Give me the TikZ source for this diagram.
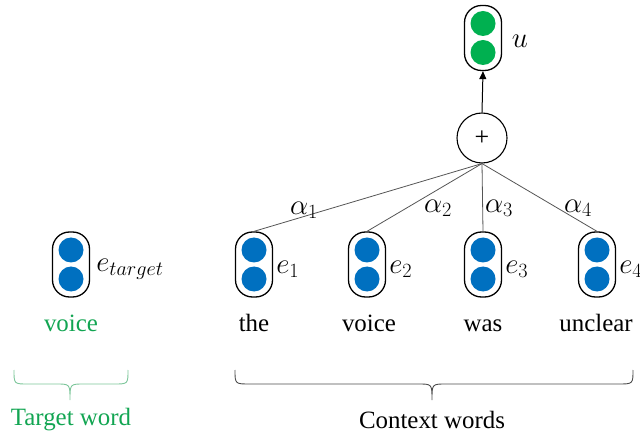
\documentclass[tikz,border=0pt]{standalone}
\usepackage{fix-cm}
\usepackage{fontspec}
\setmainfont{Liberation Serif}
\usetikzlibrary{arrows.meta,calc}
\definecolor{vblue}{HTML}{0070C0}
\definecolor{vgreen}{HTML}{00B050}
\definecolor{tgreen}{HTML}{12A552}
\definecolor{bgreen}{HTML}{7CC69A}
\definecolor{lgray}{HTML}{555555}
\tikzset{
  capsule/.style={draw, line width=1.3bp, rounded corners=17bp, minimum width=37bp, minimum height=65bp, inner sep=0pt,
    path picture={
      \fill[#1] ([yshift=14.5bp]path picture bounding box.center) circle (12.5bp);
      \fill[#1] ([yshift=-14.5bp]path picture bounding box.center) circle (12.5bp);
    }},
  word/.style={anchor=base, font=\rmfamily\fontsize{25}{30}\selectfont, inner sep=0pt},
  mlab/.style={font=\fontsize{29}{34}\selectfont, inner sep=0pt},
  conn/.style={draw=lgray, line width=0.8bp},
  bracestyle/.style={line width=0.9bp}
}
\begin{document}
\begin{tikzpicture}[x=1bp,y=-1bp]
\path[use as bounding box] (0,0) rectangle (640,435);

% target
\node[capsule=vblue] (tgt) at (71,264.5) {};
\node[mlab, anchor=west] (etgt) at ($(tgt.east)+(6,5)$) {$e_{target}$};
\node[word, text=tgreen] (wtgt) at (71,331) {voice};

% context capsules
\node[capsule=vblue] (c1) at (254,264.5) {};
\node[capsule=vblue] (c2) at (367,264.5) {};
\node[capsule=vblue] (c3) at (483,264.5) {};
\node[capsule=vblue] (c4) at (597,264.5) {};
\node[mlab, anchor=west] (e1) at ($(c1.east)+(3,5)$) {$e_1$};
\node[mlab, anchor=west] (e2) at ($(c2.east)+(3,5)$) {$e_2$};
\node[mlab, anchor=west] (e3) at ($(c3.east)+(3,5)$) {$e_3$};
\node[mlab, anchor=west] (e4) at ($(c4.east)+(3,5)$) {$e_4$};

\node[word] (w1) at (254,331) {the};
\node[word] (w2) at (369,331) {voice};
\node[word] (w3) at (483,331) {was};
\node[word] (w4) at (596,331) {unclear};

% sum node
\node[draw, circle, line width=1.1bp, minimum size=50bp, inner sep=0pt, font=\rmfamily\fontsize{26}{30}\selectfont] (plus) at (482,138) {+};

% output
\node[capsule=vgreen] (u) at (483,38) {};
\node[mlab] (ul) at (520,41) {$u$};
\draw[line width=1bp, -{Triangle[length=8bp,width=7bp]}] (plus.north) -- (u.south);

% connectors
\draw[conn] (plus.south) -- (c1.north);
\draw[conn] (plus.south) -- (c2.north);
\draw[conn] (plus.south) -- (c3.north);
\draw[conn] (plus.south) -- (c4.north);
\node[mlab] (a1) at (304,210) {$\alpha_1$};
\node[mlab] (a2) at (438,208) {$\alpha_2$};
\node[mlab] (a3) at (499,208) {$\alpha_3$};
\node[mlab] (a4) at (578,208) {$\alpha_4$};

% braces
\draw[bracestyle, draw=bgreen] (14,370) .. controls (14,384) .. (28,384) -- (56,384) .. controls (70,384) .. (70,400) .. controls (70,384) .. (84,384) -- (114,384) .. controls (128,384) .. (128,370);
\node[word, text=tgreen] (tw) at (71,425) {Target word};

\draw[bracestyle, draw=black!70] (235,370) .. controls (235,384) .. (250,384) -- (418,384) .. controls (432,384) .. (432,400) .. controls (432,384) .. (446,384) -- (618,384) .. controls (633,384) .. (633,370);
\node[word] (cw) at (432,428) {Context words};
\end{tikzpicture}
\end{document}
